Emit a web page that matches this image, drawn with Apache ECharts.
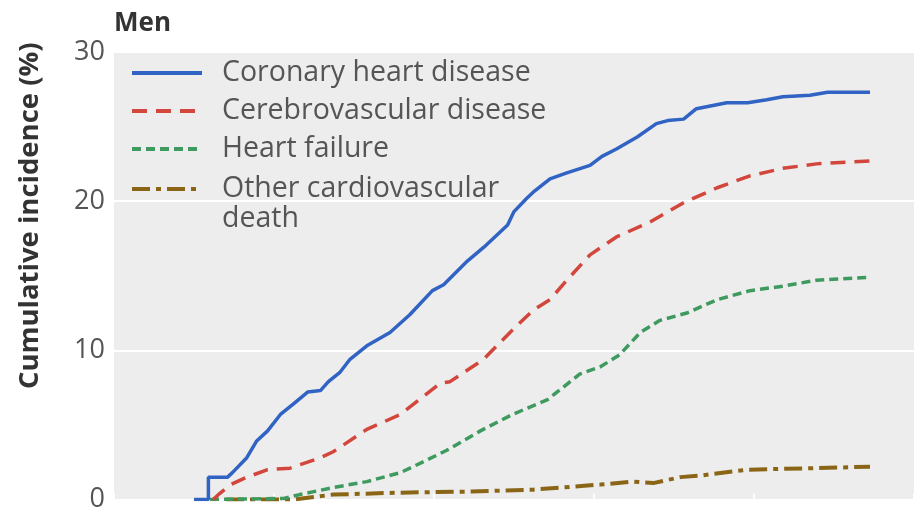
<!DOCTYPE html>
<html>
<head>
<meta charset="utf-8">
<script src="https://cdn.jsdelivr.net/npm/echarts@6/dist/echarts.min.js"></script>
<style>
  html, body { margin: 0; padding: 0; background: #ffffff; }
  #chart { width: 914px; height: 513px; }
</style>
</head>
<body>
<div id="chart"></div>
<script>
// Series names
var seriesNames = ['Coronary heart disease', 'Cerebrovascular disease', 'Heart failure', 'Other cardiovascular death'];

// Y axis ticks
var yTicks = [0, 10, 20, 30];

// Coronary heart disease (x = age, y = cumulative incidence %)
var chdX = [55.0, 55.9, 55.9, 57.1, 57.4, 58.3, 58.9, 59.6, 60.4, 61.2, 62.1, 62.9, 63.4, 64.1, 64.75, 65.8, 67.25, 68.5, 69.9, 70.6, 72.1, 73.1, 74.1, 74.6, 75.0, 75.8, 76.2, 77.25, 78.3, 79.75, 80.5, 81.4, 82.7, 83.9, 84.6, 85.6, 86.4, 88.3, 89.6, 90.8, 91.8, 93.5, 94.6, 97.25];
var chdY = [0, 0, 1.5, 1.5, 1.8, 2.8, 3.9, 4.6, 5.7, 6.4, 7.2, 7.3, 7.9, 8.5, 9.4, 10.3, 11.2, 12.4, 14.0, 14.4, 16.0, 16.9, 17.9, 18.4, 19.3, 20.2, 20.6, 21.5, 21.9, 22.4, 23.0, 23.5, 24.3, 25.2, 25.4, 25.5, 26.2, 26.6, 26.6, 26.8, 27.0, 27.1, 27.3, 27.3];

// Cerebrovascular disease
var cvdX = [56.2, 56.6, 57.3, 58.2, 59.6, 61.0, 62.9, 63.7, 65.8, 67.9, 70.4, 71.0, 73.1, 74.75, 76.2, 77.25, 78.3, 79.75, 81.4, 83.5, 85.6, 87.7, 89.75, 91.8, 93.9, 97.25];
var cvdY = [0, 0.4, 1.0, 1.45, 2.0, 2.1, 2.8, 3.2, 4.7, 5.7, 7.8, 7.9, 9.4, 11.2, 12.7, 13.4, 14.7, 16.4, 17.6, 18.6, 19.9, 20.9, 21.7, 22.2, 22.5, 22.7];

// Heart failure
var hfX = [56.0, 60.6, 61.6, 63.7, 65.8, 67.9, 68.7, 70.8, 72.9, 74.9, 77.1, 79.1, 80.4, 81.6, 82.9, 84.1, 85.8, 87.7, 89.75, 91.8, 93.9, 97.25];
var hfY = [0, 0.07, 0.33, 0.8, 1.2, 1.8, 2.2, 3.3, 4.6, 5.7, 6.7, 8.4, 8.9, 9.7, 11.2, 12.0, 12.5, 13.4, 14.0, 14.3, 14.7, 14.9];

// Other cardiovascular death
var ocdX = [57.0, 61.2, 63.7, 67.9, 72.1, 76.2, 80.4, 82.4, 83.7, 85.4, 86.6, 89.6, 93.7, 97.25];
var ocdY = [0, 0, 0.33, 0.46, 0.53, 0.66, 1.0, 1.2, 1.1, 1.5, 1.6, 2.0, 2.1, 2.2];

function pairs(xs, ys) {
  var out = [];
  for (var i = 0; i < xs.length; i++) out.push([xs[i], ys[i]]);
  return out;
}

var FONT = '"Open Sans", "Noto Sans", sans-serif';

var chart = echarts.init(document.getElementById('chart'), null, { renderer: 'canvas' });

var legendText = {
  fontFamily: FONT,
  fontSize: 28.5,
  color: '#555555',
  lineHeight: 30,
  padding: [0, 0, 0, 15]
};

chart.setOption({
  animation: false,
  backgroundColor: '#ffffff',
  title: {
    text: 'Men',
    left: 114,
    top: 11,
    padding: 0,
    textStyle: { fontFamily: FONT, fontSize: 26, fontWeight: 'bold', color: '#333333' }
  },
  legend: [
    {
      orient: 'vertical',
      left: 130,
      top: 58,
      padding: 0,
      itemGap: 8,
      itemWidth: 70,
      itemHeight: 14,
      selectedMode: false,
      itemStyle: { opacity: 0 },
      lineStyle: { width: 4 },
      data: [seriesNames[0], seriesNames[1], seriesNames[2]],
      textStyle: legendText
    },
    {
      orient: 'vertical',
      left: 130,
      top: 144,
      padding: 0,
      itemWidth: 70,
      itemHeight: 14,
      selectedMode: false,
      itemStyle: { opacity: 0 },
      lineStyle: { width: 4 },
      data: [seriesNames[3]],
      formatter: function () { return '\nOther cardiovascular\ndeath'; },
      textStyle: legendText
    }
  ],
  grid: {
    left: 114,
    right: 0,
    top: 52,
    bottom: 3,
    show: true,
    backgroundColor: '#ededed',
    borderWidth: 0
  },
  xAxis: {
    type: 'value',
    min: 50,
    max: 100,
    interval: 10,
    axisLine: { show: false },
    axisLabel: { show: false },
    axisTick: { show: true, inside: true, length: 6, lineStyle: { color: '#ffffff', width: 2 } },
    splitLine: { show: false }
  },
  yAxis: {
    type: 'value',
    min: yTicks[0],
    max: yTicks[yTicks.length - 1],
    interval: 10,
    name: 'Cumulative incidence (%)',
    nameLocation: 'middle',
    nameRotate: 90,
    nameGap: 70,
    nameTextStyle: {
      fontFamily: FONT, fontSize: 27.5, fontWeight: 'bold', color: '#333333',
      padding: [0, 0, 0, 120]
    },
    axisLine: { show: false },
    axisTick: { show: false },
    axisLabel: { fontFamily: FONT, fontSize: 27, color: '#555555', margin: 9 },
    splitLine: { show: true, lineStyle: { color: '#ffffff', width: 2 } }
  },
  series: [
    {
      name: seriesNames[3], type: 'line', symbol: 'none', z: 2,
      data: pairs(ocdX, ocdY),
      lineStyle: { color: '#8a6516', width: 4, type: [18, 6, 5, 6] },
      itemStyle: { color: '#8a6516' }
    },
    {
      name: seriesNames[2], type: 'line', symbol: 'none', z: 3,
      data: pairs(hfX, hfY),
      lineStyle: { color: '#3f9a5f', width: 3.5, type: [9, 5] },
      itemStyle: { color: '#3f9a5f' }
    },
    {
      name: seriesNames[1], type: 'line', symbol: 'none', z: 4,
      data: pairs(cvdX, cvdY),
      lineStyle: { color: '#d2463c', width: 3.5, type: [15, 9] },
      itemStyle: { color: '#d2463c' }
    },
    {
      name: seriesNames[0], type: 'line', symbol: 'none', z: 5,
      data: pairs(chdX, chdY),
      lineStyle: { color: '#3163c4', width: 3.5, type: 'solid' },
      itemStyle: { color: '#3163c4' }
    }
  ]
});
</script>
</body>
</html>
